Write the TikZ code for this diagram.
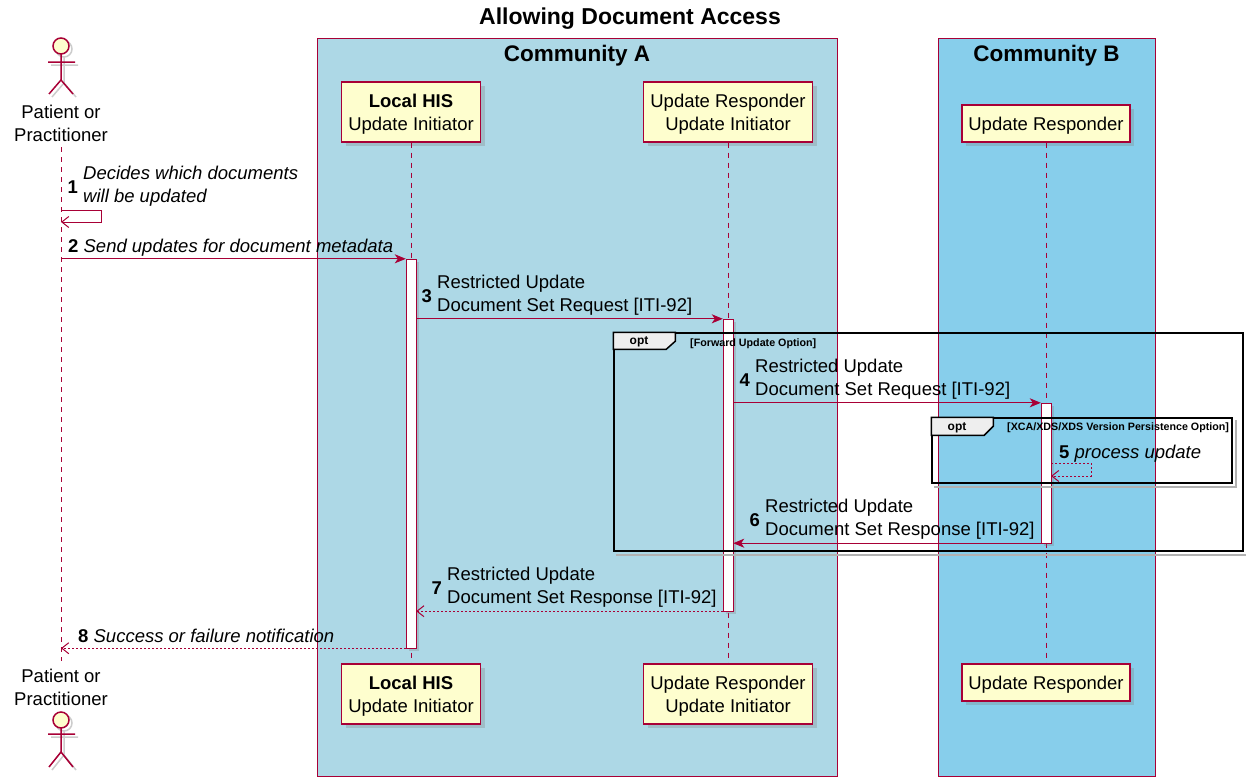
\documentclass[tikz,border=0pt]{standalone}
\usepackage{fontspec}
\setmainfont{Liberation Sans}
\usetikzlibrary{arrows.meta,shadows}
\definecolor{umlred}{HTML}{A80036}
\definecolor{umlfill}{HTML}{FEFECE}
\definecolor{commA}{HTML}{ADD8E6}
\definecolor{commB}{HTML}{87CEEB}
\definecolor{tabgray}{HTML}{EEEEEE}

\begin{document}
\begin{tikzpicture}[x=1pt,y=-1pt,
	every node/.style={inner sep=0pt},
	txt/.style={font=\fontsize{18.5}{23}\selectfont},
	lbl/.style={txt,align=left,anchor=south west},
	num/.style={font=\fontsize{18.5}{23}\selectfont\bfseries,anchor=east},
	head/.style={font=\bfseries\fontsize{22.5}{27}\selectfont,anchor=base},
	part/.style={txt,draw=umlred,line width=1.2pt,fill=umlfill,align=center,drop shadow={shadow xshift=4pt,shadow yshift=-4pt,opacity=.3}},
	act/.style={draw=umlred,fill=white,minimum width=10pt,drop shadow={shadow xshift=3pt,shadow yshift=-3pt,opacity=.3}},
	lifeline/.style={draw=umlred,line width=.8pt,dash pattern=on 5pt off 5pt},
	actor/.style={draw=umlred,line width=1.5pt},
	ashadow/.style={draw=black!20,line width=1.5pt},
	frame/.style={draw=black,line width=1.5pt},
	fshadow/.style={draw=black!30,line width=2.5pt},
	tab/.style={draw=black,line width=1.5pt,fill=tabgray},
	tabtxt/.style={font=\fontsize{12}{14}\selectfont\bfseries},
	cond/.style={font=\fontsize{10.7}{13}\selectfont\bfseries,anchor=base west},
	msg/.style={draw=umlred,line width=1pt,-{Stealth[length=11pt,width=9pt,inset=3pt]}},
	selfmsg/.style={draw=umlred,line width=1pt,-{Straight Barb[length=7pt,width=11pt]}},
	reply/.style={selfmsg,dash pattern=on 2pt off 2pt}]
	\useasboundingbox (0,0) rectangle (1246,776);
	\filldraw [draw=umlred,fill=commA] (317,38) rectangle (837,776);
	\filldraw [draw=umlred,fill=commB] (938,38) rectangle (1155,776);
	\node [font=\bfseries\fontsize{23}{28}\selectfont,anchor=base] (title) at (630,25) {Allowing Document Access};
	\node [head] (comma) at (577,62) {Community A};
	\node [head] (commb) at (1046.5,62) {Community B};

	\node [txt,align=center,anchor=south] (pat) at (61,142) {Patient or\\Practitioner};
	\node [txt,align=center,anchor=south] (patb) at (61,706) {Patient or\\Practitioner};
	\node [part,minimum width=139pt,minimum height=60pt] (his) at (411,112) {\rule{0pt}{17.5pt}\textbf{Local HIS}\\Update Initiator};
	\node [part,minimum width=139pt,minimum height=60pt] (hisb) at (411,694) {\rule{0pt}{17.5pt}\textbf{Local HIS}\\Update Initiator};
	\node [part,minimum width=169pt,minimum height=60pt] (uri) at (728,112) {\rule{0pt}{17.5pt}Update Responder\\Update Initiator};
	\node [part,minimum width=169pt,minimum height=60pt] (urib) at (728,694) {\rule{0pt}{17.5pt}Update Responder\\Update Initiator};
	\node [part,minimum width=168pt,minimum height=37pt] (ur) at (1046,123.5) {\rule{0pt}{17pt}Update Responder};
	\node [part,minimum width=168pt,minimum height=37pt] (urb) at (1046,682.5) {\rule{0pt}{17pt}Update Responder};

	\draw [lifeline] ([yshift=-5pt]pat.south) -- ([yshift=8pt]patb.north);
	\draw [lifeline] (his.south) -- (hisb.north);
	\draw [lifeline] (uri.south) -- (urib.north);
	\draw [lifeline] (ur.south) -- (urb.north);

	\draw [ashadow] (64,49) circle [radius=8pt];
	\draw [ashadow] (64,57) -- (64,83) (51,65) -- (78,65) (52,97) -- (64,83) -- (76,97);
	\filldraw [actor,fill=umlfill] (61,46) circle [radius=8pt];
	\draw [actor] (61,54) -- (61,80) (48,62) -- (75,62) (49,94) -- (61,80) -- (73,94);
	\draw [ashadow] (64,723) circle [radius=8pt];
	\draw [ashadow] (64,731) -- (64,755) (51,737) -- (78,737) (52,770) -- (64,755) -- (76,770);
	\filldraw [actor,fill=umlfill] (61,720) circle [radius=8pt];
	\draw [actor] (61,728) -- (61,752) (48,734) -- (75,734) (49,767) -- (61,752) -- (73,767);

	\node [act,minimum height=389pt] (hisact) at (411,453.5) {};
	\node [act,minimum height=292pt] (uriact) at (728,465) {};
	\node [act,minimum height=140pt] (uract) at (1046,473) {};

	\node [frame,minimum width=629pt,minimum height=218pt] (opt1) at (928.5,442) {};
	\draw [fshadow] ([shift={(3,3)}]opt1.north east) -- ([shift={(3,3)}]opt1.south east) -- ([shift={(3,3)}]opt1.south west);
	\node [frame,minimum width=629pt,minimum height=218pt] at (opt1) {};
	\filldraw [tab] (opt1.north west) -- ++(62,0) -- ++(0,9) -- ++(-9,8) -- ++(-53,0) -- cycle;
	\node [tabtxt] (t1) at (639,342) {opt};
	\node [cond] (c1) at (690,346) {[Forward Update Option]};
	\node [frame,minimum width=300pt,minimum height=65pt] (opt2) at (1082,450.5) {};
	\draw [fshadow] ([shift={(3,3)}]opt2.north east) -- ([shift={(3,3)}]opt2.south east) -- ([shift={(3,3)}]opt2.south west);
	\node [frame,minimum width=300pt,minimum height=65pt] at (opt2) {};
	\filldraw [tab] (opt2.north west) -- ++(62,0) -- ++(0,9) -- ++(-9,9) -- ++(-53,0) -- cycle;
	\node [tabtxt] (t2) at (957,428) {opt};
	\node [cond] (c2) at (1007,430) {[XCA/XDS/XDS Version Persistence Option]};

	\coordinate (s1) at (61,210);
	\draw [selfmsg] (s1) -- ++(40,0) |- ++(-40,12);
	\node [lbl,font=\fontsize{18.5}{23}\selectfont\itshape] (l1) at (83,207) {Decides which documents\\will be updated};
	\node [num] (n1) at ([xshift=-5pt]l1.west) {1};
	\draw [msg] (pat.south |- hisact.north) -- (hisact.north west);
	\node [txt,anchor=base west] (l2) at (68,252) {\textbf{2} \textit{Send updates for document metadata}};
	\draw [msg] (hisact.east |- uriact.north) -- (uriact.north west);
	\node [lbl] (l3) at (437,316) {Restricted Update\\Document Set Request [ITI-92]};
	\node [num] (n3) at ([xshift=-5pt]l3.west) {3};
	\draw [msg] (uriact.east |- uract.north) -- (uract.north west);
	\node [lbl] (l4) at (755,400) {Restricted Update\\Document Set Request [ITI-92]};
	\node [num] (n4) at ([xshift=-5pt]l4.west) {4};
	\coordinate (s5) at (1051,463);
	\draw [reply] (s5) -- ++(40,0) |- ++(-40,13);
	\node [txt,anchor=base west] (l5) at (1059,458) {\textbf{5} \textit{process update}};
	\draw [msg] (uract.south west) -- (uriact.east |- uract.south);
	\node [lbl] (l6) at (765,540) {Restricted Update\\Document Set Response [ITI-92]};
	\node [num] (n6) at ([xshift=-5pt]l6.west) {6};
	\draw [reply] (uriact.south west) -- (hisact.east |- uriact.south);
	\node [lbl] (l7) at (447,608) {Restricted Update\\Document Set Response [ITI-92]};
	\node [num] (n7) at ([xshift=-5pt]l7.west) {7};
	\draw [reply] (hisact.south west) -- (pat.south |- hisact.south);
	\node [txt,anchor=base west] (l8) at (78,642) {\textbf{8} \textit{Success or failure notification}};
\end{tikzpicture}
\end{document}
